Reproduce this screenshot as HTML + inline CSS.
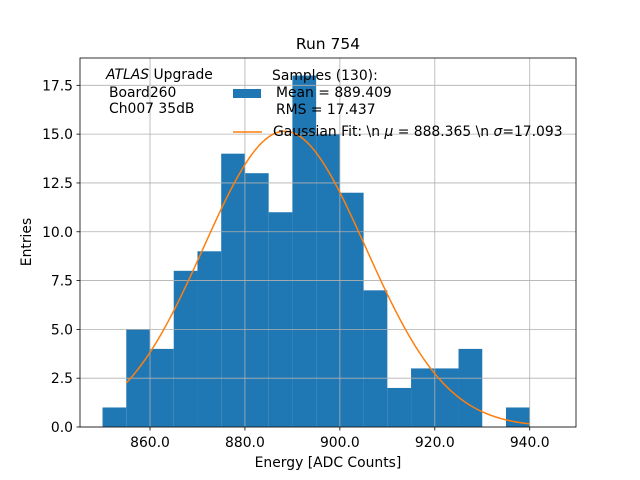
<!DOCTYPE html>
<html><head><meta charset="utf-8"><style>body{margin:0;background:#fff}svg{display:block;font-family:"DejaVu Sans","Liberation Sans",sans-serif}</style></head>
<body>
<svg id="chart" width="640" height="480" xmlns="http://www.w3.org/2000/svg">
<rect width="640" height="480" fill="#fff"/>
<text x="328" y="49" font-size="15.5" text-anchor="middle">Run 754</text>
<g id="bars"></g><g id="grid"></g><g id="fit"></g><g id="ticks"></g>
<rect x="80" y="58" width="496" height="369" fill="none" stroke="#000" stroke-width="0.8"/>
<text x="328" y="467" font-size="13.9" text-anchor="middle">Energy [ADC Counts]</text>
<text transform="translate(31,242) rotate(-90)" font-size="13.9" text-anchor="middle">Entries</text>
<g font-size="13.9">
<text x="106" y="79"><tspan font-style="italic">ATLAS</tspan> Upgrade</text>
<text x="109" y="97">Board260</text>
<text x="109" y="113">Ch007 35dB</text>
</g>
<g font-size="13.9">
<rect x="233" y="89" width="28" height="9" fill="#1f77b4"/>
<text x="272" y="80">Samples (130):</text>
<text x="276" y="97">Mean = 889.409</text>
<text x="276" y="114">RMS = 17.437</text>
<line x1="233" y1="132" x2="262" y2="132" stroke="#ff7f0e" stroke-width="1.5"/>
<text x="273" y="136">Gaussian Fit: \n <tspan font-style="italic">μ</tspan> = 888.365 \n <tspan font-style="italic">σ</tspan>=17.093</text>
</g>
</svg>
<script>
const binEdges=[850,855,860,865,870,875,880,885,890,895,900,905,910,915,920,925,930,935,940];
const counts=[1,5,4,8,9,14,13,11,18,15,12,7,2,3,3,4,0,1];
const xTicks=[860,880,900,920,940];
const yTicks=[0,2.5,5,7.5,10,12.5,15,17.5];
const fitParams=[15.15,888.365,17.093];
const fitRange=[855,940];
const NS="http://www.w3.org/2000/svg";
const X=v=>80+(v-845.25)/(949.75-845.25)*496;
const Y=v=>427-v/18.9*369;
function mk(t,a,p){const e=document.createElementNS(NS,t);for(const k in a)e.setAttribute(k,a[k]);document.getElementById(p).appendChild(e);return e;}
counts.forEach((c,i)=>{if(c<=0)return;const e=mk('rect',{x:X(binEdges[i]),y:Y(c),width:X(binEdges[i]+5)-X(binEdges[i]),height:Y(0)-Y(c),fill:'#1f77b4'},'bars');

});
xTicks.forEach(v=>{const g=mk('line',{x1:X(v),x2:X(v),y1:58,y2:427,stroke:'#b0b0b0','stroke-width':0.8},'grid');


mk('line',{x1:X(v),x2:X(v),y1:427,y2:430.5,stroke:'#000','stroke-width':0.8},'ticks');
const t=mk('text',{x:X(v),y:447,'font-size':13.9,'text-anchor':'middle'},'ticks');t.textContent=v.toFixed(1);

});
yTicks.forEach(v=>{const g=mk('line',{x1:80,x2:576,y1:Y(v),y2:Y(v),stroke:'#b0b0b0','stroke-width':0.8},'grid');


mk('line',{x1:76.5,x2:80,y1:Y(v),y2:Y(v),stroke:'#000','stroke-width':0.8},'ticks');
const t=mk('text',{x:73,y:Y(v)+5,'font-size':13.9,'text-anchor':'end'},'ticks');t.textContent=v.toFixed(1);

});
let pts=[];const [A,mu,sg]=fitParams;
for(let i=0;i<=200;i++){const x=fitRange[0]+(fitRange[1]-fitRange[0])*i/200;pts.push(X(x).toFixed(2)+','+Y(A*Math.exp(-(x-mu)*(x-mu)/(2*sg*sg))).toFixed(2));}
const pl=mk('polyline',{points:pts.join(' '),fill:'none',stroke:'#ff7f0e','stroke-width':1.5},'fit');


</script>
</body></html>
